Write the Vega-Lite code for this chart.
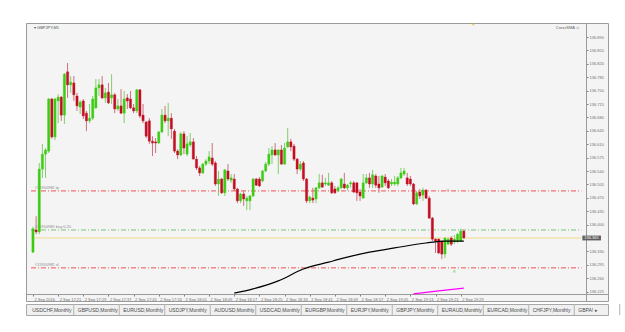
{
"$schema": "https://vega.github.io/schema/vega-lite/v6.json",
"background": "#ffffff",
"padding": {"left": 25, "top": 22, "right": 0, "bottom": 0},
"config": {"view": {"stroke": null}, "font": "Liberation Sans", "concat": {"spacing": 1}, "axis": {"labelOverlap": false, "labelSeparation": 0, "labelBound": false, "labelFlush": false}},
"datasets": {
"candles": [
{"i":0,"o":136.328,"h":136.394,"l":136.326,"c":136.389},
{"i":1,"o":136.386,"h":136.422,"l":136.375,"c":136.381},
{"i":2,"o":136.381,"h":136.561,"l":136.375,"c":136.545},
{"i":3,"o":136.545,"h":136.611,"l":136.522,"c":136.584},
{"i":4,"o":136.584,"h":136.600,"l":136.522,"c":136.595},
{"i":5,"o":136.592,"h":136.731,"l":136.587,"c":136.728},
{"i":6,"o":136.728,"h":136.731,"l":136.624,"c":136.629},
{"i":7,"o":136.629,"h":136.731,"l":136.621,"c":136.728},
{"i":8,"o":136.723,"h":136.741,"l":136.665,"c":136.733},
{"i":9,"o":136.733,"h":136.736,"l":136.671,"c":136.686},
{"i":10,"o":136.686,"h":136.796,"l":136.663,"c":136.793},
{"i":11,"o":136.799,"h":136.822,"l":136.731,"c":136.765},
{"i":12,"o":136.765,"h":136.788,"l":136.744,"c":136.772},
{"i":13,"o":136.770,"h":136.788,"l":136.723,"c":136.739},
{"i":14,"o":136.736,"h":136.744,"l":136.697,"c":136.710},
{"i":15,"o":136.707,"h":136.725,"l":136.689,"c":136.720},
{"i":16,"o":136.723,"h":136.728,"l":136.676,"c":136.684},
{"i":17,"o":136.691,"h":136.697,"l":136.644,"c":136.671},
{"i":18,"o":136.671,"h":136.715,"l":136.665,"c":136.678},
{"i":19,"o":136.678,"h":136.736,"l":136.673,"c":136.728},
{"i":20,"o":136.705,"h":136.780,"l":136.702,"c":136.757},
{"i":21,"o":136.757,"h":136.780,"l":136.736,"c":136.765},
{"i":22,"o":136.765,"h":136.788,"l":136.728,"c":136.731},
{"i":23,"o":136.731,"h":136.757,"l":136.718,"c":136.744},
{"i":24,"o":136.746,"h":136.770,"l":136.715,"c":136.718},
{"i":25,"o":136.731,"h":136.793,"l":136.715,"c":136.739},
{"i":26,"o":136.739,"h":136.744,"l":136.691,"c":136.702},
{"i":27,"o":136.702,"h":136.728,"l":136.697,"c":136.710},
{"i":28,"o":136.710,"h":136.754,"l":136.689,"c":136.691},
{"i":29,"o":136.691,"h":136.749,"l":136.665,"c":136.728},
{"i":30,"o":136.731,"h":136.741,"l":136.702,"c":136.723},
{"i":31,"o":136.728,"h":136.749,"l":136.702,"c":136.705},
{"i":32,"o":136.705,"h":136.715,"l":136.691,"c":136.697},
{"i":33,"o":136.697,"h":136.754,"l":136.691,"c":136.752},
{"i":34,"o":136.752,"h":136.754,"l":136.678,"c":136.684},
{"i":35,"o":136.686,"h":136.715,"l":136.665,"c":136.671},
{"i":36,"o":136.668,"h":136.671,"l":136.626,"c":136.631},
{"i":37,"o":136.671,"h":136.678,"l":136.611,"c":136.618},
{"i":38,"o":136.618,"h":136.631,"l":136.579,"c":136.613},
{"i":39,"o":136.616,"h":136.626,"l":136.587,"c":136.613},
{"i":40,"o":136.613,"h":136.644,"l":136.611,"c":136.642},
{"i":41,"o":136.642,"h":136.702,"l":136.639,"c":136.686},
{"i":42,"o":136.686,"h":136.710,"l":136.665,"c":136.671},
{"i":43,"o":136.671,"h":136.718,"l":136.631,"c":136.678},
{"i":44,"o":136.678,"h":136.691,"l":136.624,"c":136.650},
{"i":45,"o":136.644,"h":136.650,"l":136.587,"c":136.592},
{"i":46,"o":136.592,"h":136.597,"l":136.571,"c":136.582},
{"i":47,"o":136.582,"h":136.642,"l":136.579,"c":136.637},
{"i":48,"o":136.637,"h":136.644,"l":136.584,"c":136.600},
{"i":49,"o":136.584,"h":136.631,"l":136.579,"c":136.611},
{"i":50,"o":136.608,"h":136.639,"l":136.603,"c":136.616},
{"i":51,"o":136.616,"h":136.626,"l":136.571,"c":136.571},
{"i":52,"o":136.571,"h":136.579,"l":136.543,"c":136.548},
{"i":53,"o":136.548,"h":136.553,"l":136.527,"c":136.535},
{"i":54,"o":136.535,"h":136.561,"l":136.532,"c":136.558},
{"i":55,"o":136.558,"h":136.571,"l":136.553,"c":136.566},
{"i":56,"o":136.566,"h":136.592,"l":136.558,"c":136.577},
{"i":57,"o":136.574,"h":136.613,"l":136.553,"c":136.558},
{"i":58,"o":136.561,"h":136.566,"l":136.501,"c":136.506},
{"i":59,"o":136.506,"h":136.540,"l":136.475,"c":136.519},
{"i":60,"o":136.519,"h":136.522,"l":136.480,"c":136.483},
{"i":61,"o":136.483,"h":136.545,"l":136.475,"c":136.543},
{"i":62,"o":136.540,"h":136.558,"l":136.514,"c":136.519},
{"i":63,"o":136.516,"h":136.532,"l":136.509,"c":136.522},
{"i":64,"o":136.519,"h":136.532,"l":136.488,"c":136.493},
{"i":65,"o":136.493,"h":136.496,"l":136.456,"c":136.462},
{"i":66,"o":136.462,"h":136.483,"l":136.456,"c":136.480},
{"i":67,"o":136.480,"h":136.488,"l":136.449,"c":136.467},
{"i":68,"o":136.462,"h":136.475,"l":136.438,"c":136.469},
{"i":69,"o":136.462,"h":136.477,"l":136.438,"c":136.475},
{"i":70,"o":136.475,"h":136.522,"l":136.472,"c":136.519},
{"i":71,"o":136.519,"h":136.522,"l":136.501,"c":136.503},
{"i":72,"o":136.519,"h":136.524,"l":136.498,"c":136.501},
{"i":73,"o":136.514,"h":136.543,"l":136.511,"c":136.540},
{"i":74,"o":136.540,"h":136.564,"l":136.537,"c":136.558},
{"i":75,"o":136.558,"h":136.600,"l":136.553,"c":136.584},
{"i":76,"o":136.582,"h":136.605,"l":136.558,"c":136.595},
{"i":77,"o":136.595,"h":136.613,"l":136.579,"c":136.582},
{"i":78,"o":136.582,"h":136.597,"l":136.532,"c":136.595},
{"i":79,"o":136.595,"h":136.608,"l":136.556,"c":136.558},
{"i":80,"o":136.558,"h":136.613,"l":136.556,"c":136.600},
{"i":81,"o":136.603,"h":136.652,"l":136.600,"c":136.616},
{"i":82,"o":136.616,"h":136.624,"l":136.592,"c":136.603},
{"i":83,"o":136.605,"h":136.611,"l":136.566,"c":136.571},
{"i":84,"o":136.571,"h":136.574,"l":136.532,"c":136.545},
{"i":85,"o":136.545,"h":136.566,"l":136.540,"c":136.558},
{"i":86,"o":136.561,"h":136.566,"l":136.514,"c":136.519},
{"i":87,"o":136.519,"h":136.522,"l":136.456,"c":136.462},
{"i":88,"o":136.462,"h":136.475,"l":136.456,"c":136.472},
{"i":89,"o":136.469,"h":136.496,"l":136.456,"c":136.464},
{"i":90,"o":136.467,"h":136.498,"l":136.456,"c":136.496},
{"i":91,"o":136.496,"h":136.532,"l":136.493,"c":136.509},
{"i":92,"o":136.509,"h":136.530,"l":136.496,"c":136.498},
{"i":93,"o":136.506,"h":136.522,"l":136.501,"c":136.509},
{"i":94,"o":136.503,"h":136.535,"l":136.501,"c":136.509},
{"i":95,"o":136.509,"h":136.514,"l":136.480,"c":136.483},
{"i":96,"o":136.493,"h":136.501,"l":136.480,"c":136.483},
{"i":97,"o":136.488,"h":136.501,"l":136.485,"c":136.496},
{"i":98,"o":136.496,"h":136.522,"l":136.493,"c":136.519},
{"i":99,"o":136.506,"h":136.535,"l":136.493,"c":136.496},
{"i":100,"o":136.496,"h":136.506,"l":136.490,"c":136.503},
{"i":101,"o":136.506,"h":136.514,"l":136.496,"c":136.509},
{"i":102,"o":136.509,"h":136.514,"l":136.483,"c":136.485},
{"i":103,"o":136.509,"h":136.511,"l":136.462,"c":136.483},
{"i":104,"o":136.485,"h":136.493,"l":136.462,"c":136.475},
{"i":105,"o":136.469,"h":136.532,"l":136.469,"c":136.509},
{"i":106,"o":136.509,"h":136.532,"l":136.506,"c":136.522},
{"i":107,"o":136.522,"h":136.535,"l":136.496,"c":136.506},
{"i":108,"o":136.506,"h":136.543,"l":136.496,"c":136.530},
{"i":109,"o":136.527,"h":136.532,"l":136.496,"c":136.503},
{"i":110,"o":136.506,"h":136.527,"l":136.483,"c":136.496},
{"i":111,"o":136.498,"h":136.530,"l":136.496,"c":136.527},
{"i":112,"o":136.524,"h":136.532,"l":136.501,"c":136.509},
{"i":113,"o":136.514,"h":136.519,"l":136.493,"c":136.496},
{"i":114,"o":136.506,"h":136.519,"l":136.501,"c":136.511},
{"i":115,"o":136.506,"h":136.527,"l":136.501,"c":136.511},
{"i":116,"o":136.506,"h":136.527,"l":136.501,"c":136.522},
{"i":117,"o":136.522,"h":136.548,"l":136.519,"c":136.535},
{"i":118,"o":136.532,"h":136.548,"l":136.527,"c":136.540},
{"i":119,"o":136.522,"h":136.535,"l":136.501,"c":136.506},
{"i":120,"o":136.519,"h":136.527,"l":136.501,"c":136.506},
{"i":121,"o":136.506,"h":136.509,"l":136.451,"c":136.454},
{"i":122,"o":136.454,"h":136.488,"l":136.451,"c":136.483},
{"i":123,"o":136.485,"h":136.493,"l":136.467,"c":136.475},
{"i":124,"o":136.477,"h":136.496,"l":136.462,"c":136.490},
{"i":125,"o":136.490,"h":136.493,"l":136.467,"c":136.469},
{"i":126,"o":136.469,"h":136.475,"l":136.415,"c":136.417},
{"i":127,"o":136.417,"h":136.420,"l":136.357,"c":136.362},
{"i":128,"o":136.362,"h":136.365,"l":136.326,"c":136.357},
{"i":129,"o":136.362,"h":136.365,"l":136.323,"c":136.326},
{"i":130,"o":136.357,"h":136.357,"l":136.310,"c":136.323},
{"i":131,"o":136.323,"h":136.368,"l":136.313,"c":136.365},
{"i":132,"o":136.349,"h":136.368,"l":136.347,"c":136.362},
{"i":133,"o":136.365,"h":136.370,"l":136.344,"c":136.349},
{"i":134,"o":136.355,"h":136.373,"l":136.349,"c":136.362},
{"i":135,"o":136.357,"h":136.378,"l":136.352,"c":136.375},
{"i":136,"o":136.357,"h":136.389,"l":136.355,"c":136.383},
{"i":137,"o":136.383,"h":136.386,"l":136.362,"c":136.365}
],
"ma": [
{"i":64,"v":136.221},{"i":70,"v":136.232},{"i":78,"v":136.253},{"i":86,"v":136.284},{"i":94,"v":136.302},{"i":99,"v":136.313},{"i":107,"v":136.328},{"i":115,"v":136.339},{"i":125,"v":136.352},{"i":131,"v":136.357},{"i":137,"v":136.357}
],
"ma2": [
{"i":121,"v":136.219},{"i":129,"v":136.227},{"i":137,"v":136.234}
],
"levels": [
{"kind":"tp","price":136.488,"label":"#11950982 tp"},
{"kind":"buy","price":136.386,"label":"#11950982 buy 0.20"},
{"kind":"sl","price":136.287,"label":"#11950982 sl"}
],
"bid": [{"price":136.365}],
"trades": [
{"kind":"tp","i":131.9,"price":136.488},
{"kind":"open","i":134,"price":136.279}
],
"tabs": [
{"k":0,"name":"USDCHF,Monthly"},{"k":1,"name":"GBPUSD,Monthly"},{"k":2,"name":"EURUSD,Monthly"},{"k":3,"name":"USDJPY,Monthly"},{"k":4,"name":"AUDUSD,Monthly"},{"k":5,"name":"USDCAD,Monthly"},{"k":6,"name":"EURGBP,Monthly"},{"k":7,"name":"EURJPY,Monthly"},{"k":8,"name":"GBPJPY,Monthly"},{"k":9,"name":"EURAUD,Monthly"},{"k":10,"name":"EURCAD,Monthly"},{"k":11,"name":"CHFJPY,Monthly"},{"k":12,"name":"GBPA! ▸"}
]
},
"vconcat": [
{
"width": 582, "height": 278,
"view": {"fill": "#f4f4f4", "stroke": "#9a9a9a"},
"layer": [
{
"data": {"name": "candles"},
"mark": {"type": "rule", "strokeWidth": 1},
"encoding": {
"x": {"field": "i", "type": "quantitative", "scale": {"domain": [-0.625, 181.25], "nice": false, "zero": false},
"axis": {"orient": "bottom", "offset": -7, "tickCount": 200, "values": [0,8,16,24,32,40,48,56,64,72,80,88,96,104,112,120,128,136],
"labelExpr": "datum.value == 0 ? '2 Sep 2016' : '2 Sep ' + (17 + floor((13 + datum.value) / 60)) + ':' + ((((13 + datum.value) % 60) < 10) ? '0' : '') + ((13 + datum.value) % 60)",
"labelAlign": "left", "labelBaseline": "top", "labelOffset": 1, "labelFontSize": 4, "labelColor": "#707070", "labelPadding": 1, "tickSize": 2, "tickColor": "#808080", "domainColor": "#9a9a9a", "title": null, "grid": false, "labelOverlap": false, "labelBound": false, "labelFlush": false}},
"y": {"field": "l", "type": "quantitative", "scale": {"domain": [136.20046, 136.92657], "nice": false, "zero": false},
"axis": {"orient": "right", "offset": -22, "tickCount": 200, "values": [136.225,136.26,136.295,136.33,136.4,136.435,136.47,136.505,136.54,136.575,136.61,136.645,136.68,136.715,136.75,136.785,136.82,136.855,136.89],
"format": ".3f", "labelFontSize": 4, "labelColor": "#707070", "labelPadding": 1, "tickSize": 2, "tickColor": "#808080", "domainColor": "#9a9a9a", "title": null, "grid": false, "labelOverlap": false, "labelBound": false, "labelFlush": false}},
"y2": {"field": "h"},
"stroke": {"condition": {"test": "datum.c >= datum.o", "value": "#7fcf6a"}, "value": "#cf6f7c"}
}
},
{
"data": {"name": "levels"},
"mark": {"type": "rule", "strokeWidth": 1, "strokeDash": [5, 2, 1, 2]},
"encoding": {
"x": {"datum": -0.625, "type": "quantitative"},
"x2": {"datum": 174.4},
"y": {"field": "price", "type": "quantitative"},
"stroke": {"field": "kind", "type": "nominal", "scale": {"domain": ["tp", "buy", "sl"], "range": ["#ee5555", "#7cc47c", "#ee5555"]}, "legend": null}
}
},
{
"data": {"name": "levels"},
"mark": {"type": "text", "align": "left", "baseline": "alphabetic", "dy": -1.5, "fontSize": 4, "fill": "#8a8a8a"},
"encoding": {"x": {"datum": 0.6}, "y": {"field": "price", "type": "quantitative"}, "text": {"field": "label"}}
},
{
"data": {"name": "bid"},
"mark": {"type": "rule", "stroke": "#efdc8a", "strokeWidth": 1},
"encoding": {"x": {"datum": -0.625}, "x2": {"datum": 174.4}, "y": {"field": "price", "type": "quantitative"}}
},
{
"data": {"name": "candles"},
"mark": {"type": "bar", "width": 2.2, "strokeWidth": 0.4},
"encoding": {
"x": {"field": "i", "type": "quantitative"},
"y": {"field": "o", "type": "quantitative"},
"y2": {"field": "c"},
"fill": {"condition": {"test": "datum.c >= datum.o", "value": "#3ccc12"}, "value": "#c30d22"},
"stroke": {"condition": {"test": "datum.c >= datum.o", "value": "#3ccc12"}, "value": "#c30d22"}
}
},
{
"data": {"name": "ma"},
"mark": {"type": "line", "stroke": "#000000", "strokeWidth": 1.2, "interpolate": "monotone"},
"encoding": {"x": {"field": "i", "type": "quantitative"}, "y": {"field": "v", "type": "quantitative"}}
},
{
"data": {"name": "ma2"},
"mark": {"type": "line", "stroke": "#ff00ff", "strokeWidth": 1.2},
"encoding": {"x": {"field": "i", "type": "quantitative"}, "y": {"field": "v", "type": "quantitative"}}
},
{
"data": {"name": "trades"},
"mark": {"type": "point", "filled": true, "size": 14},
"encoding": {
"x": {"field": "i", "type": "quantitative"},
"y": {"field": "price", "type": "quantitative"},
"shape": {"field": "kind", "type": "nominal", "scale": {"domain": ["tp", "open"], "range": ["triangle-down", "triangle-up"]}, "legend": null},
"fill": {"field": "kind", "type": "nominal", "scale": {"domain": ["tp", "open"], "range": ["#f09a9a", "#7fdc7f"]}, "legend": null}
}
},
{
"data": {"values": [{}]},
"mark": {"type": "rect", "fill": "#5e5e5e"},
"encoding": {"x": {"datum": 174.7}, "x2": {"datum": 180.6}, "y": {"datum": 136.3713}, "y2": {"datum": 136.3587}}
},
{
"data": {"values": [{}]},
"mark": {"type": "text", "text": "136.365", "align": "left", "baseline": "middle", "fontSize": 4, "fill": "#ffffff"},
"encoding": {"x": {"datum": 175.3}, "y": {"datum": 136.365}}
},
{
"data": {"values": [{}]},
"mark": {"type": "text", "text": "▾ GBPJPY,M1", "align": "left", "baseline": "middle", "fontSize": 4, "fill": "#505050"},
"encoding": {"x": {"datum": 0.3}, "y": {"datum": 136.914}}
},
{
"data": {"values": [{}]},
"mark": {"type": "text", "text": "CrossSMA ☺", "align": "right", "baseline": "middle", "fontSize": 4, "fill": "#606060"},
"encoding": {"x": {"datum": 173.9}, "y": {"datum": 136.914}}
},
{
"data": {"values": [{}]},
"mark": {"type": "point", "shape": "triangle-down", "filled": true, "size": 10, "fill": "#e6b400"},
"encoding": {"x": {"datum": 140}, "y": {"datum": 136.922}}
}
]
},
{
"width": 582, "height": 11,
"view": {"fill": "#f0f0f0", "stroke": "#a8a8a8"},
"data": {"name": "tabs"},
"layer": [
{
"mark": {"type": "rule", "xOffset": 22.75, "stroke": "#b4b4b4", "strokeWidth": 1},
"encoding": {"x": {"field": "k", "type": "quantitative", "scale": {"domain": [-0.5495, 12.242], "nice": false, "zero": false}, "axis": null}}
},
{
"mark": {"type": "text", "align": "left", "baseline": "middle", "dx": -18.75, "fontSize": 5, "fill": "#4a4a4a"},
"encoding": {"x": {"field": "k", "type": "quantitative"}, "text": {"field": "name"}}
}
]
}
]
}
